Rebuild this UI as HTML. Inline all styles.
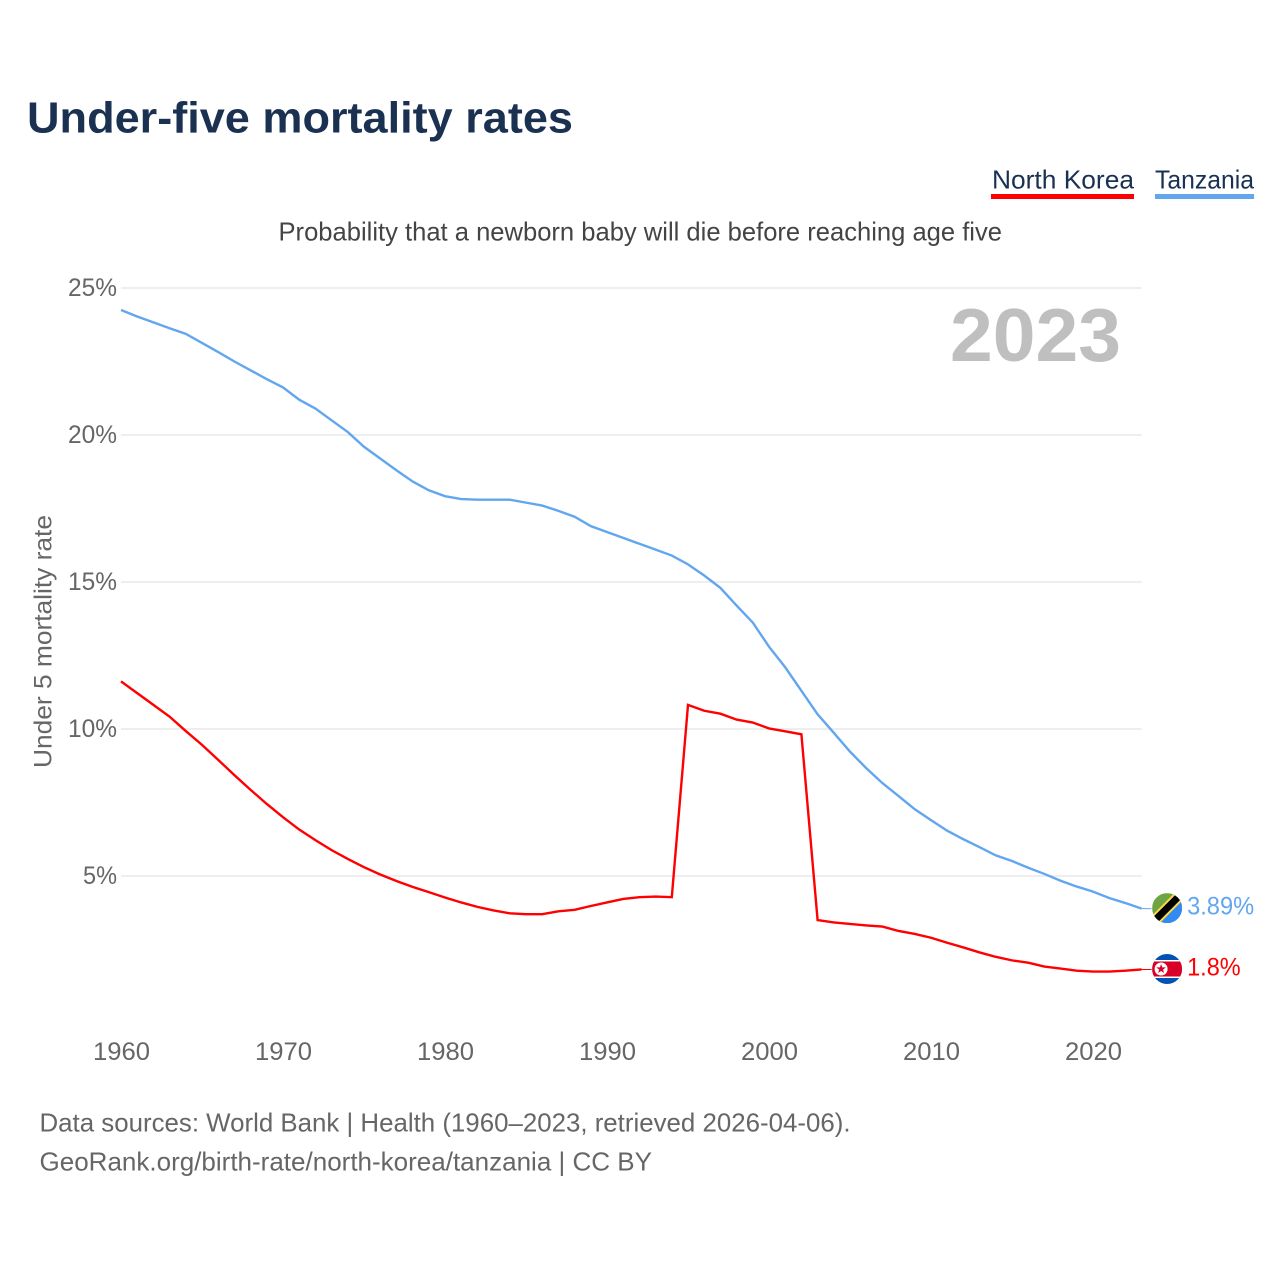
<!DOCTYPE html>
<html lang="en">
<head>
<meta charset="utf-8">
<title>Under-five mortality rates</title>
<style>
html,body{margin:0;padding:0;background:#fff;}
svg{display:block;}
text{font-family:"Liberation Sans",sans-serif;}
</style>
</head>
<body>
<svg id="chart" xmlns="http://www.w3.org/2000/svg" width="1280" height="1280" viewBox="0 0 1280 1280">
  <rect x="0" y="0" width="1280" height="1280" fill="#fff"/>
  <text x="27" y="132.5" font-size="44" font-weight="700" fill="#1a3152" textLength="546" lengthAdjust="spacingAndGlyphs">Under-five mortality rates</text>
  <g>
    <text x="992" y="188.5" font-size="26" fill="#1a3152" textLength="142" lengthAdjust="spacingAndGlyphs">North Korea</text>
    <rect x="991" y="194" width="143" height="5" fill="#ff0000"/>
  </g>
  <g>
    <text x="1155" y="188.5" font-size="26" fill="#1a3152" textLength="99" lengthAdjust="spacingAndGlyphs">Tanzania</text>
    <rect x="1155" y="194" width="99" height="5" fill="#62a6ef"/>
  </g>
  <text x="278.5" y="240.5" font-size="26" fill="#444" textLength="723.5" lengthAdjust="spacingAndGlyphs">Probability that a newborn baby will die before reaching age five</text>
  <text transform="translate(51.5,768) rotate(-90)" x="0" y="0" font-size="25" fill="#666" textLength="253" lengthAdjust="spacingAndGlyphs">Under 5 mortality rate</text>
  <g id="grid"></g>
  <g id="yticks"></g>
  <g id="xticks"></g>
  <text x="1121" y="361" text-anchor="end" font-size="75" font-weight="700" fill="#bfbfbf" textLength="171" lengthAdjust="spacingAndGlyphs">2023</text>
  <g id="series"></g>

  <defs>
    <clipPath id="flag-clip"><circle cx="0" cy="0" r="15"/></clipPath>
  </defs>
  <g id="flag-tanzania">
    <g clip-path="url(#flag-clip)">
      <rect x="-15" y="-15" width="30" height="30" fill="#6da544"/>
      <polygon points="-15,15 15,-15 15,15" fill="#338af3"/>
      <line x1="-15" y1="15" x2="15" y2="-15" stroke="#ffda44" stroke-width="11"/>
      <line x1="-15" y1="15" x2="15" y2="-15" stroke="#000" stroke-width="7"/>
    </g>
  </g>
  <g id="flag-north-korea">
    <g clip-path="url(#flag-clip)">
      <rect x="-15" y="-15" width="30" height="30" fill="#0052b4"/>
      <rect x="-15" y="-9" width="30" height="18" fill="#fff"/>
      <rect x="-15" y="-7.5" width="30" height="15" fill="#d80027"/>
      <circle cx="-6" cy="0" r="6.5" fill="#fff"/>
      <polygon points="-6,-5 -4.8,-1.6 -1.2,-1.6 -4.1,0.6 -3,4 -6,2 -9,4 -7.9,0.6 -10.8,-1.6 -7.2,-1.6" fill="#d80027"/>
    </g>
  </g>

  <text x="39.5" y="1131.5" font-size="26" fill="#666" textLength="811" lengthAdjust="spacingAndGlyphs">Data sources: World Bank | Health (1960–2023, retrieved 2026-04-06).</text>
  <text x="39.5" y="1170.5" font-size="26" fill="#666" textLength="612.5" lengthAdjust="spacingAndGlyphs">GeoRank.org/birth-rate/north-korea/tanzania | CC BY</text>
</svg>
<script>
const years = [1960,1961,1962,1963,1964,1965,1966,1967,1968,1969,1970,1971,1972,1973,1974,1975,1976,1977,1978,1979,1980,1981,1982,1983,1984,1985,1986,1987,1988,1989,1990,1991,1992,1993,1994,1995,1996,1997,1998,1999,2000,2001,2002,2003,2004,2005,2006,2007,2008,2009,2010,2011,2012,2013,2014,2015,2016,2017,2018,2019,2020,2021,2022,2023];
const tanzaniaValues = [24.25,24.03,23.83,23.63,23.44,23.13,22.82,22.5,22.2,21.9,21.62,21.2,20.9,20.5,20.1,19.6,19.2,18.8,18.42,18.12,17.92,17.82,17.8,17.8,17.8,17.7,17.6,17.42,17.22,16.9,16.7,16.5,16.3,16.1,15.9,15.6,15.22,14.8,14.2,13.62,12.8,12.1,11.3,10.5,9.87,9.23,8.67,8.16,7.72,7.27,6.9,6.54,6.25,5.98,5.7,5.51,5.28,5.07,4.84,4.64,4.47,4.25,4.08,3.89];
const northKoreaValues = [11.62,11.22,10.82,10.42,9.93,9.46,8.95,8.43,7.93,7.45,7.0,6.58,6.22,5.88,5.58,5.3,5.05,4.83,4.63,4.45,4.27,4.1,3.95,3.83,3.73,3.7,3.7,3.8,3.85,3.98,4.1,4.22,4.28,4.3,4.28,10.82,10.62,10.52,10.32,10.22,10.02,9.92,9.82,3.5,3.42,3.37,3.32,3.28,3.13,3.03,2.9,2.73,2.57,2.4,2.25,2.13,2.05,1.92,1.85,1.78,1.75,1.75,1.78,1.82];
const yTickValues = [5,10,15,20,25];
const xTickValues = [1960,1970,1980,1990,2000,2010,2020];

const NS = 'http://www.w3.org/2000/svg';
function xScale(year){ return 121 + (year - 1960) * 16.2; }
function yScale(value){ return 1023 - value * 29.4; }
function make(tag, parent){
  const el = document.createElementNS(NS, tag);
  parent.appendChild(el);
  return el;
}

const grid = document.getElementById('grid');
const yticks = document.getElementById('yticks');
const xticks = document.getElementById('xticks');
const series = document.getElementById('series');
const plotRight = xScale(years[years.length - 1]);

yTickValues.forEach(function(v){
  const line = make('line', grid);
  
  
  line.setAttribute('x1', xScale(1960));
  line.setAttribute('x2', plotRight);
  line.setAttribute('y1', yScale(v));
  line.setAttribute('y2', yScale(v));
  line.setAttribute('stroke', '#eeeeee');
  line.setAttribute('stroke-width', '2');
  const label = make('text', yticks);
  
  
  label.setAttribute('x', 117);
  label.setAttribute('y', yScale(v) + 8);
  label.setAttribute('text-anchor', 'end');
  label.setAttribute('font-size', '25');
  label.setAttribute('fill', '#666');
  label.setAttribute('textLength', String(v).length > 1 ? 49 : 34);
  label.setAttribute('lengthAdjust', 'spacingAndGlyphs');
  label.textContent = v + '%';
});

xTickValues.forEach(function(y){
  const label = make('text', xticks);
  
  
  label.setAttribute('x', xScale(y) + 0.5);
  label.setAttribute('y', 1060);
  label.setAttribute('text-anchor', 'middle');
  label.setAttribute('font-size', '25');
  label.setAttribute('fill', '#666');
  label.setAttribute('textLength', 57);
  label.setAttribute('lengthAdjust', 'spacingAndGlyphs');
  label.textContent = y;
});

function pathFor(values){
  return values.map(function(v, i){
    return (i ? 'L' : 'M') + xScale(years[i]).toFixed(2) + ' ' + yScale(v).toFixed(2);
  }).join(' ');
}
function drawEnd(values, shownValue, color, flagId){
  const ly = yScale(values[values.length - 1]);
  const stub = make('line', series);
  
  
  stub.setAttribute('x1', plotRight);
  stub.setAttribute('x2', plotRight + 10);
  stub.setAttribute('y1', ly);
  stub.setAttribute('y2', ly);
  stub.setAttribute('stroke', color);
  stub.setAttribute('stroke-width', '1');
  const text = shownValue + '%';
  const endLabel = make('text', series);
  
  
  endLabel.setAttribute('x', plotRight + 45.5);
  endLabel.setAttribute('y', ly + 6);
  endLabel.setAttribute('font-size', '25');
  endLabel.setAttribute('fill', color);
  endLabel.setAttribute('textLength', text.length * 13.4);
  endLabel.setAttribute('lengthAdjust', 'spacingAndGlyphs');
  endLabel.textContent = text;
  document.getElementById(flagId).setAttribute('transform', 'translate(' + (plotRight + 25.5) + ',' + (ly - 0.5) + ')');
}

const northPath = make('path', series);


northPath.setAttribute('d', pathFor(northKoreaValues));
northPath.setAttribute('fill', 'none');
northPath.setAttribute('stroke', '#ff0000');
northPath.setAttribute('stroke-width', '2.4');
northPath.setAttribute('stroke-linejoin', 'miter');

const tanzaniaPath = make('path', series);


tanzaniaPath.setAttribute('d', pathFor(tanzaniaValues));
tanzaniaPath.setAttribute('fill', 'none');
tanzaniaPath.setAttribute('stroke', '#62a6ef');
tanzaniaPath.setAttribute('stroke-width', '2.4');

drawEnd(tanzaniaValues, 3.89, '#62a6ef', 'flag-tanzania');
drawEnd(northKoreaValues, 1.8, '#ff0000', 'flag-north-korea');
</script>
</body>
</html>
